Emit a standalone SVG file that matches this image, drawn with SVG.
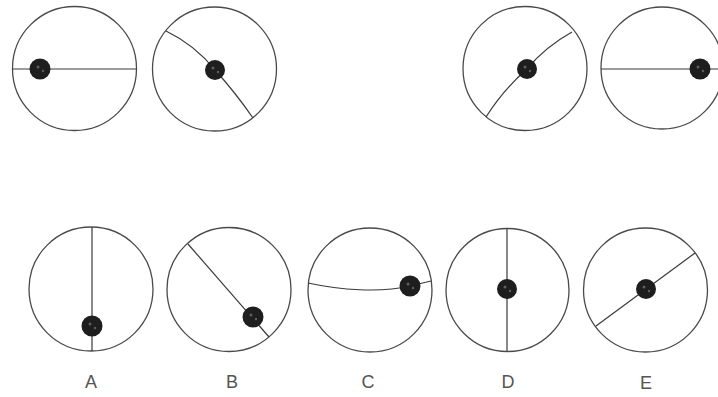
<svg xmlns="http://www.w3.org/2000/svg" width="718" height="397" viewBox="0 0 718 397">
<style>
.ring{fill:none;stroke:#4a4a4a;stroke-width:1.3}
.ln{fill:none;stroke:#3a3a3a;stroke-width:1.2}
.dot{fill:#1e1e1e}
.spk{fill:#8a8a8a;opacity:0.6}
.lbl{font-family:"Liberation Sans",Arial,sans-serif;font-size:18px;fill:#555;text-anchor:middle}
</style>
<rect width="718" height="397" fill="#fff"/>
<g id="top1">
<circle class="ring" cx="74.5" cy="68.5" r="62"/>
<path class="ln" d="M12.5,69 L136.5,69"/>
<circle class="dot" cx="40" cy="69" r="10.5"/>
<circle class="spk" cx="38" cy="67" r="1.5"/><circle class="spk" cx="43" cy="71" r="1.2"/>
</g>
<g id="top2">
<circle class="ring" cx="214.5" cy="69" r="62"/>
<path class="ln" d="M166,31 Q195,45 215,70 Q235,92 253,118"/>
<circle class="dot" cx="215" cy="70" r="10"/>
<circle class="spk" cx="213" cy="68" r="1.5"/><circle class="spk" cx="218" cy="72" r="1.2"/>
</g>
<g id="top3">
<circle class="ring" cx="525" cy="68.5" r="62"/>
<path class="ln" d="M572,32 Q545,47 527,69 Q503,90 486,117"/>
<circle class="dot" cx="527" cy="69" r="10"/>
<circle class="spk" cx="525" cy="67" r="1.5"/><circle class="spk" cx="530" cy="71" r="1.2"/>
</g>
<g id="top4">
<circle class="ring" cx="662" cy="68" r="61"/>
<path class="ln" d="M601,69 L723,69"/>
<circle class="dot" cx="700" cy="69" r="10.5"/>
<circle class="spk" cx="698" cy="67" r="1.5"/><circle class="spk" cx="703" cy="71" r="1.2"/>
</g>
<g id="A">
<circle class="ring" cx="91" cy="289" r="62"/>
<path class="ln" d="M92,227 L92,351"/>
<circle class="dot" cx="92" cy="326" r="10.5"/>
<circle class="spk" cx="90" cy="324" r="1.5"/><circle class="spk" cx="95" cy="328" r="1.2"/>
<text class="lbl" x="91" y="388">A</text>
</g>
<g id="B">
<circle class="ring" cx="229" cy="289.5" r="62"/>
<path class="ln" d="M188,244 L269,337"/>
<circle class="dot" cx="253" cy="317" r="10.5"/>
<circle class="spk" cx="251" cy="315" r="1.5"/><circle class="spk" cx="256" cy="319" r="1.2"/>
<text class="lbl" x="232" y="388">B</text>
</g>
<g id="C">
<circle class="ring" cx="370" cy="290" r="62"/>
<path class="ln" d="M308,283 C340,290 380,293 410,286 L431,281"/>
<circle class="dot" cx="410" cy="286" r="10.5"/>
<circle class="spk" cx="408" cy="284" r="1.5"/><circle class="spk" cx="413" cy="288" r="1.2"/>
<text class="lbl" x="368" y="388">C</text>
</g>
<g id="D">
<circle class="ring" cx="507.5" cy="290" r="61.5"/>
<path class="ln" d="M507,228.5 L507,351.5"/>
<circle class="dot" cx="507" cy="289" r="10"/>
<circle class="spk" cx="505" cy="287" r="1.5"/><circle class="spk" cx="510" cy="291" r="1.2"/>
<text class="lbl" x="508" y="388">D</text>
</g>
<g id="E">
<circle class="ring" cx="645.5" cy="290" r="62"/>
<path class="ln" d="M695,253 L596,326"/>
<circle class="dot" cx="646" cy="289" r="10"/>
<circle class="spk" cx="644" cy="287" r="1.5"/><circle class="spk" cx="649" cy="291" r="1.2"/>
<text class="lbl" x="646" y="389">E</text>
</g>
</svg>
